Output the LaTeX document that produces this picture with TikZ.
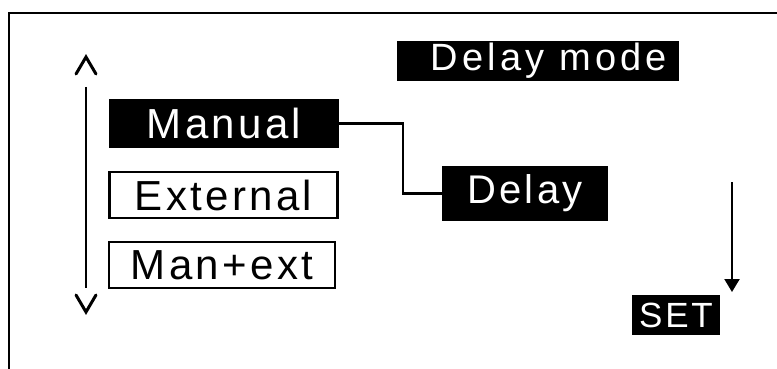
\documentclass[tikz,border=0pt]{standalone}
\usepackage{fontspec}
\setmainfont{Liberation Sans}[LetterSpace=8]
\usetikzlibrary{arrows.meta,calc}
\begin{document}
\begin{tikzpicture}[x=1pt,y=-1pt,
  panel/.style={line width=2.5pt},
  menubox/.style={draw=black,line width=2.2pt,inner sep=0pt,anchor=center,
    font=\fontsize{42}{42}\selectfont},
  selected/.style={menubox,fill=black,text=white},
  plain/.style={menubox,fill=white,text=black},
  wire/.style={line width=2.2pt},
  chevron/.style={line width=3pt,line cap=round,line join=miter}]
\useasboundingbox (0,0) rectangle (777,369);
\fill[white] (0,0) rectangle (777,369);

% display frame (open to the right and bottom)
\draw[panel] (9,369) -- (9,13) -- (777,13);

% title
\node[selected,minimum width=280pt,minimum height=38pt,
  font=\fontsize{38}{38}\selectfont\addfontfeatures{LetterSpace=11}] (mode) at (538,61) {\hspace*{22pt}Delay mode};

% menu entries
\node[selected,minimum width=227pt,minimum height=47pt] (manual) at (224,123.5) {Manual};
\node[plain,minimum width=228pt,minimum height=46pt] (external) at (223.5,195) {External};
\node[plain,minimum width=226pt,minimum height=46pt] (manext) at (222,265) {Man+ext};

% sub item
\node[selected,minimum width=164pt,minimum height=52pt,
  font=\fontsize{40}{40}\selectfont] (delay) at (525,193.5) {Delay};

% set key
\node[selected,minimum width=86pt,minimum height=38pt,
  font=\fontsize{35}{35}\selectfont] (set) at (676,315) {SET};

% connector from Manual to Delay
\draw[wire] (manual.east) -- ++(64,0) |- (delay.west);

% scroll indicator
\coordinate (scrolltop) at (86,87);
\coordinate (scrollbot) at (86,288);
\draw[wire] (scrolltop) -- (scrollbot);
\draw[chevron] ($(scrolltop)+(-10,-13)$) -- ++(10,-17) -- ++(10,17);
\draw[chevron] ($(scrollbot)+(-10,7)$) -- ++(10,17) -- ++(10,-17);

% confirm arrow towards SET
\coordinate (arrtop) at (732,182);
\coordinate (arrtip) at (732,292);
\draw[wire,-{Triangle[width=15pt,length=13pt]}] (arrtop) -- (arrtip);
\end{tikzpicture}
\end{document}
